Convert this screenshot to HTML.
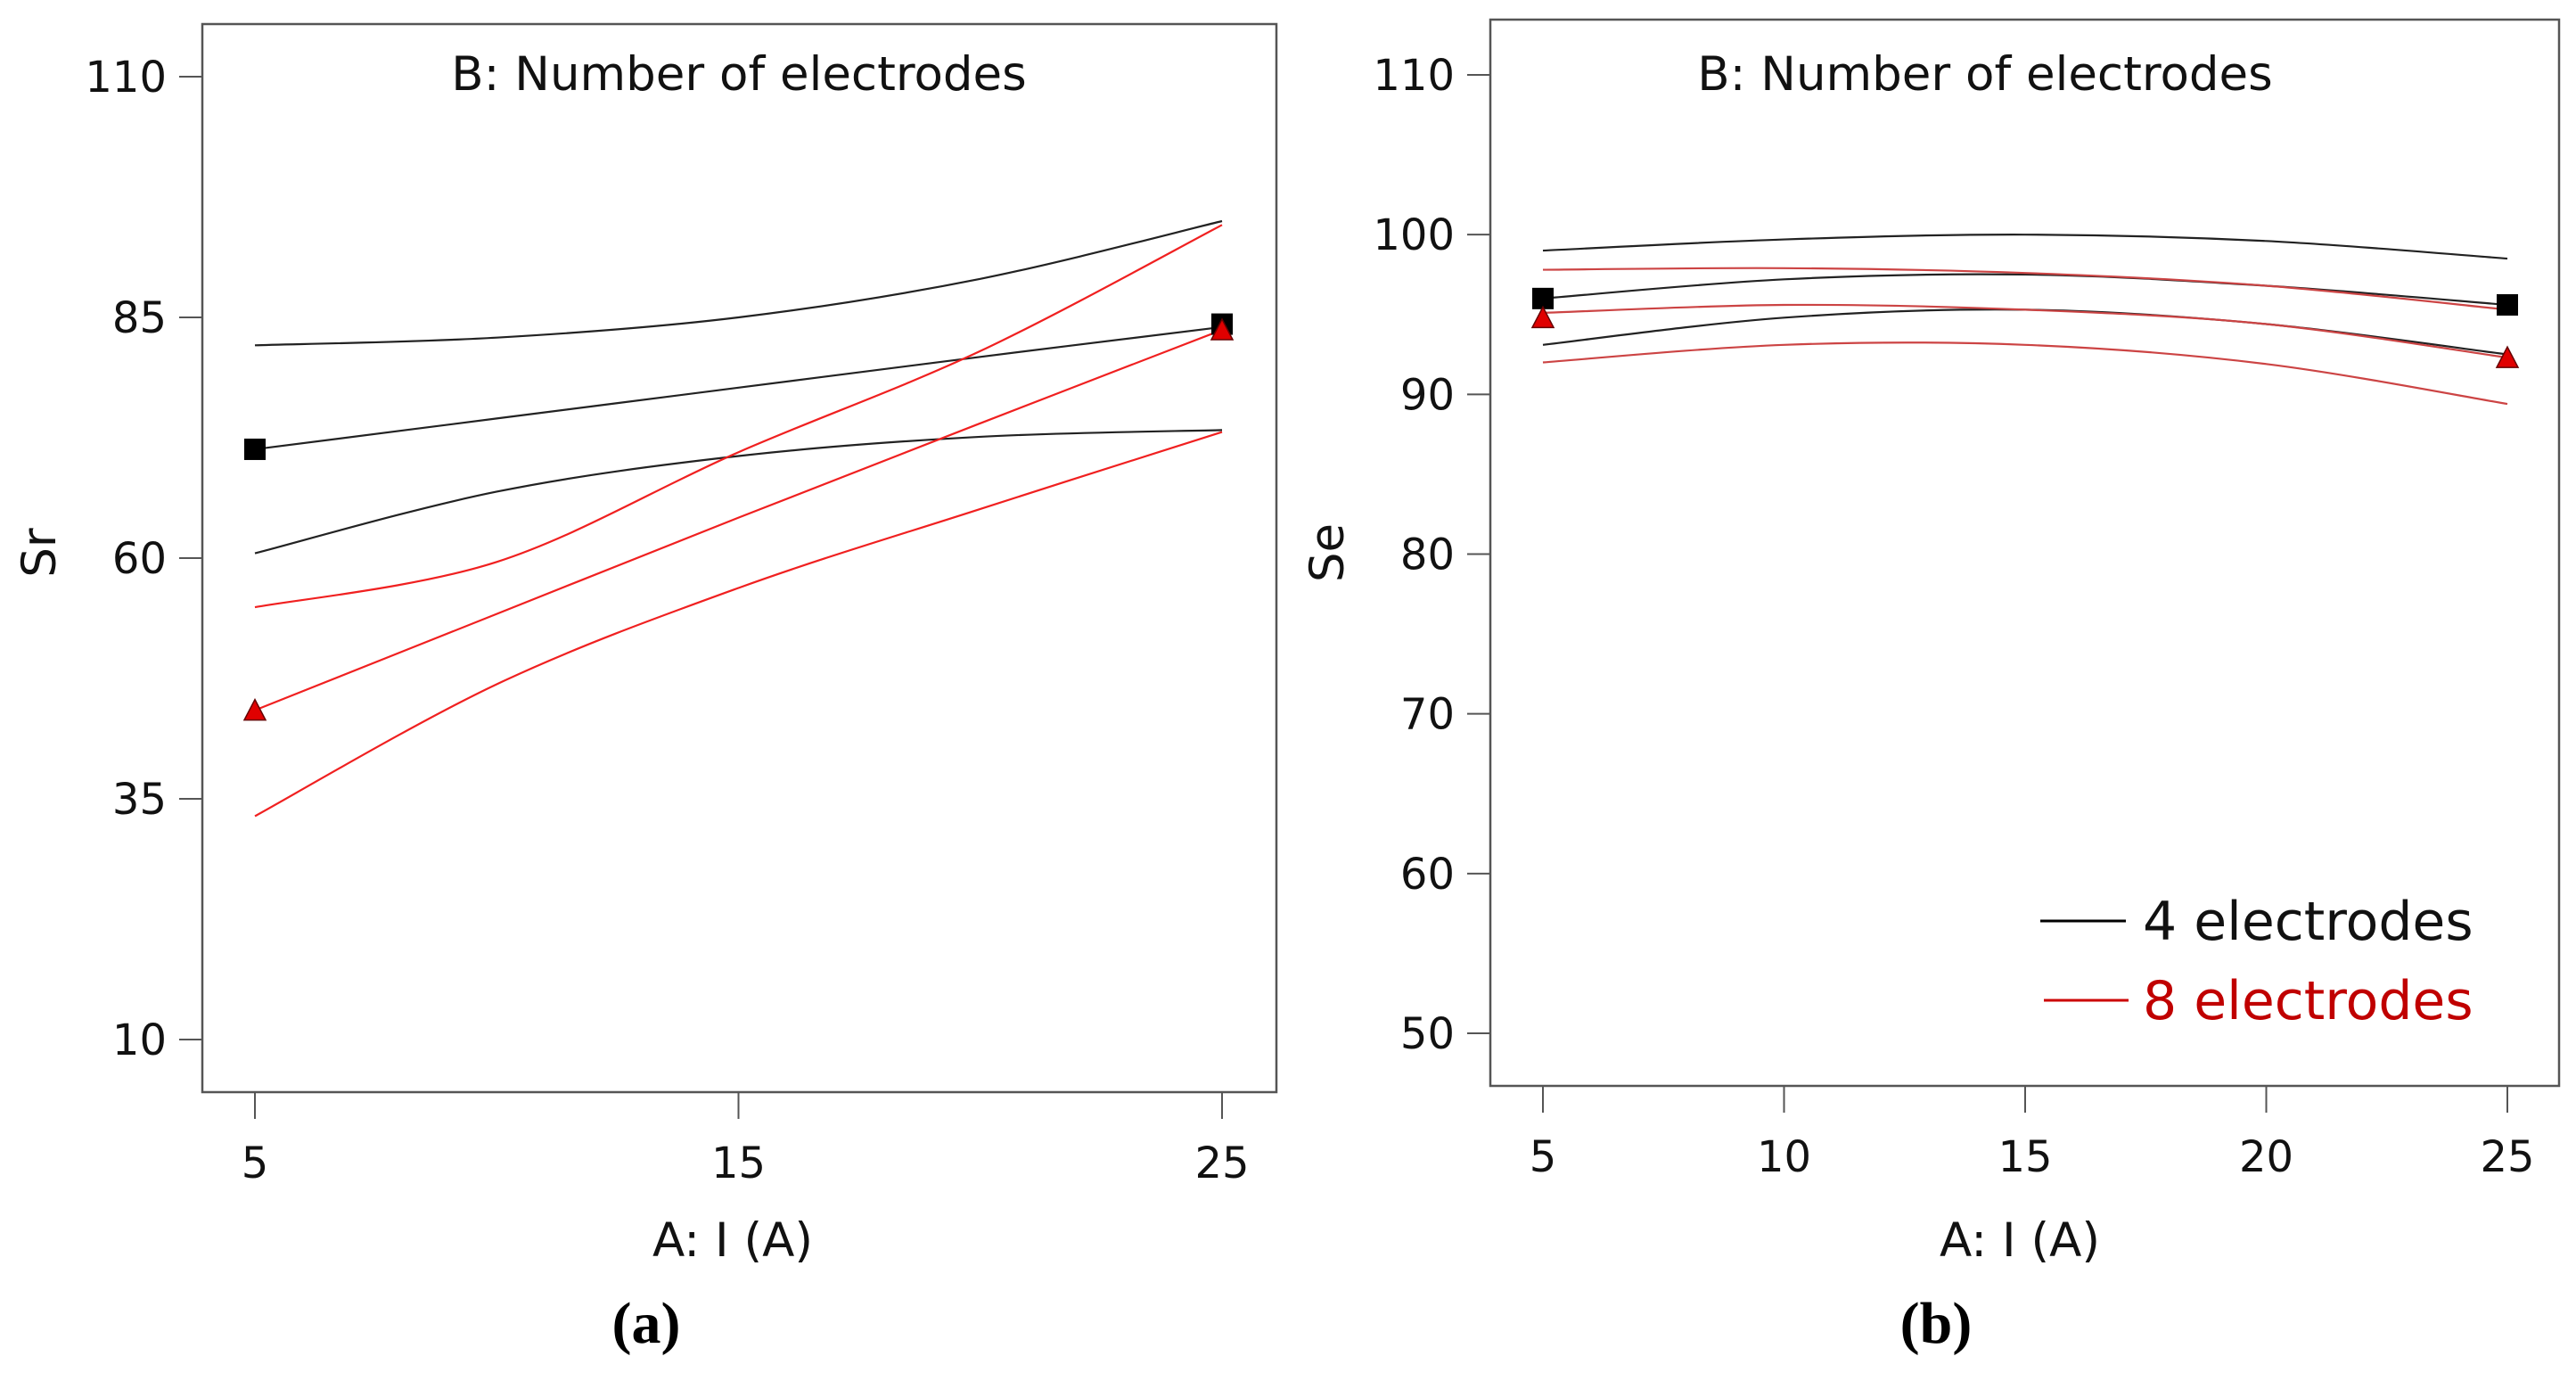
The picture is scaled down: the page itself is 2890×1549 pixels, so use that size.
<!DOCTYPE html>
<html><head><meta charset="utf-8"><style>
html,body{margin:0;padding:0;background:#fff;}
</style></head><body>
<svg width="2890" height="1544" viewBox="0 0 2890 1544" xmlns="http://www.w3.org/2000/svg" style='font-family:"DejaVu Sans","Liberation Sans",sans-serif'>
<g id="pa"></g>
<g id="pb"></g>
</svg>
<script>
// Panel (a) Sr data
const xsA = [5,10,15,20,25];
const srBlackUpper = [82.1,82.9,85,89,95];
const srBlackMean  = [71.3,74.5,77.7,80.9,84.0];
const srBlackLower = [60.5,66.9,70.6,72.6,73.3];
const srRedUpper   = [54.9,59.6,71,81.5,94.6];
const srRedMean    = [44.2,54.2,64.2,74.0,83.7];
const srRedLower   = [33.2,46.9,56.9,65.1,73.1];
const srSquares = [[5,71.3],[25,84.3]];
const srTriangles = [[5,44.2],[25,83.7]];
const srYTicks = [10,35,60,85,110];
const srXTicks = [5,15,25];
// Panel (b) Se data
const xsB = [5,10,15,20,25];
const seBlackUpper = [99.0,99.7,100.0,99.6,98.5];
const seBlackMean  = [96.0,97.2,97.5,96.8,95.6];
const seBlackLower = [93.1,94.8,95.3,94.4,92.5];
const seRedUpper   = [97.8,97.9,97.6,96.8,95.3];
const seRedMean    = [95.1,95.6,95.3,94.4,92.3];
const seRedLower   = [92.0,93.1,93.1,91.9,89.4];
const seSquares = [[5,96.0],[25,95.6]];
const seTriangles = [[5,94.8],[25,92.3]];
const seYTicks = [50,60,70,80,90,100,110];
const seXTicks = [5,10,15,20,25];

const NS="http://www.w3.org/2000/svg";
function mk(tag,attrs,parent,txt){const e=document.createElementNS(NS,tag);for(const k in attrs)e.setAttribute(k,attrs[k]);if(txt!==undefined)e.textContent=txt;parent.appendChild(e);return e;}
function curvePath(xs,ys,sx,sy){
  const p=xs.map((x,i)=>[sx(x),sy(ys[i])]);
  let d="M"+p[0][0]+","+p[0][1];
  for(let i=0;i<p.length-1;i++){
    const p0=p[Math.max(i-1,0)],p1=p[i],p2=p[i+1],p3=p[Math.min(i+2,p.length-1)];
    const c1=[p1[0]+(p2[0]-p0[0])/6,p1[1]+(p2[1]-p0[1])/6];
    const c2=[p2[0]-(p3[0]-p1[0])/6,p2[1]-(p3[1]-p1[1])/6];
    d+=" C"+c1[0]+","+c1[1]+" "+c2[0]+","+c2[1]+" "+p2[0]+","+p2[1];
  }
  return d;
}
function panel(g,cfg){
  const sx=v=>cfg.x0+(v-cfg.xmin)/(cfg.xmax-cfg.xmin)*(cfg.x1-cfg.x0);
  const sy=v=>cfg.y0+(v-cfg.ymin)/(cfg.ymax-cfg.ymin)*(cfg.y1-cfg.y0);
  const fr=mk('rect',{x:cfg.L,y:cfg.T,width:cfg.R-cfg.L,height:cfg.B-cfg.T,fill:'none',stroke:'#555','stroke-width':2.5},g);
  
  
  cfg.yticks.forEach(v=>{
    const t=mk('line',{x1:cfg.L-26,x2:cfg.L,y1:sy(v),y2:sy(v),stroke:'#555','stroke-width':2},g);
    
    
    const l=mk('text',{x:cfg.L-40,y:sy(v)+17,'text-anchor':'end','font-size':48,fill:'#111'},g,String(v));
    
    
  });
  cfg.xticks.forEach(v=>{
    const t=mk('line',{x1:sx(v),x2:sx(v),y1:cfg.B,y2:cfg.B+30,stroke:'#555','stroke-width':2},g);
    
    
    const l=mk('text',{x:sx(v),y:cfg.B+96,'text-anchor':'middle','font-size':48,fill:'#111'},g,String(v));
    
    
  });
  cfg.series.forEach(s=>{
    const p=mk('path',{d:curvePath(cfg.xs,s.ys,sx,sy),fill:'none',stroke:s.c,'stroke-width':2.2},g);
    
    
  });
  cfg.squares.forEach(q=>{
    const r=mk('rect',{x:sx(q[0])-12,y:sy(q[1])-12,width:24,height:24,fill:'#000'},g);
    
    
  });
  cfg.tris.forEach(q=>{
    const X=sx(q[0]),Y=sy(q[1]);
    const t=mk('polygon',{points:(X-12)+","+(Y+11)+" "+(X+12)+","+(Y+11)+" "+X+","+(Y-12),fill:'#e00000',stroke:'#600','stroke-width':1.5},g);
    
    
  });
  const tt=mk('text',{x:cfg.titleX,y:101,'text-anchor':'middle','font-size':53,fill:'#111'},g,'B: Number of electrodes');
  
  
  const xt=mk('text',{x:cfg.xtX,y:1409,'text-anchor':'middle','font-size':53,fill:'#111'},g,'A: I (A)');
  
  
  const yt=mk('text',{x:0,y:0,'text-anchor':'middle','font-size':53,fill:'#111',transform:'translate('+(cfg.ytX+18)+',620) rotate(-90)'},g,cfg.ylab);
  
  
  const pl=mk('text',{x:cfg.plX,y:1506,'text-anchor':'middle','font-size':66,'font-weight':'bold',fill:'#000',style:'font-family:"Liberation Serif",serif'},g,cfg.plab);
  
  
  return {sx,sy};
}
const A=document.getElementById('pa');
panel(A,{L:227,T:27,R:1432,B:1225,x0:286,x1:1371,xmin:5,xmax:25,y0:1166,y1:86,ymin:10,ymax:110,
  yticks:srYTicks,xticks:srXTicks,xs:xsA,
  series:[{ys:srBlackUpper,c:'#222',n:'sr-4-electrodes-upper-ci'},{ys:srBlackMean,c:'#222',n:'sr-4-electrodes-mean'},{ys:srBlackLower,c:'#222',n:'sr-4-electrodes-lower-ci'},
          {ys:srRedUpper,c:'#f02020',n:'sr-8-electrodes-upper-ci'},{ys:srRedMean,c:'#f02020',n:'sr-8-electrodes-mean'},{ys:srRedLower,c:'#f02020',n:'sr-8-electrodes-lower-ci'}],
  squares:srSquares,tris:srTriangles,titleX:829,xtX:822,ytX:44,ylab:'Sr',plX:725,plab:'(a)'});
const B=document.getElementById('pb');
panel(B,{L:1672,T:22,R:2871,B:1218,x0:1731,x1:2813,xmin:5,xmax:25,y0:1159,y1:84,ymin:50,ymax:110,
  yticks:seYTicks,xticks:seXTicks,xs:xsB,
  series:[{ys:seBlackUpper,c:'#222',n:'se-4-electrodes-upper-ci'},{ys:seBlackMean,c:'#222',n:'se-4-electrodes-mean'},{ys:seBlackLower,c:'#222',n:'se-4-electrodes-lower-ci'},
          {ys:seRedUpper,c:'#c44',n:'se-8-electrodes-upper-ci'},{ys:seRedMean,c:'#c44',n:'se-8-electrodes-mean'},{ys:seRedLower,c:'#c44',n:'se-8-electrodes-lower-ci'}],
  squares:seSquares,tris:seTriangles,titleX:2227,xtX:2266,ytX:1489,ylab:'Se',plX:2172,plab:'(b)'});
// legend
const lg=mk('g',{},B);


const l1=mk('line',{x1:2289,x2:2385,y1:1033,y2:1033,stroke:'#000','stroke-width':3},lg);


const t1=mk('text',{x:2404,y:1054,'font-size':60,fill:'#111'},lg,'4 electrodes');


const l2=mk('line',{x1:2293,x2:2388,y1:1122,y2:1122,stroke:'#c00','stroke-width':3},lg);


const t2=mk('text',{x:2404,y:1143,'font-size':60,fill:'#c00000'},lg,'8 electrodes');


</script>
</body></html>
